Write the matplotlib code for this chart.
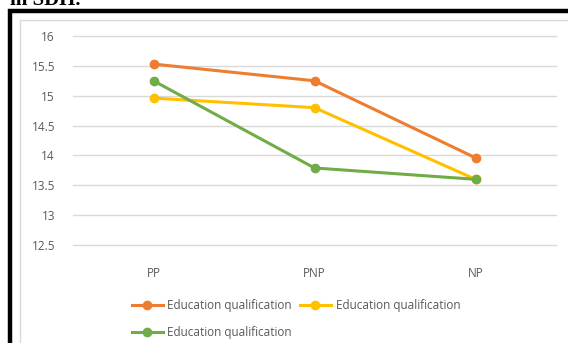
import matplotlib.pyplot as plt
from matplotlib.patches import Rectangle

# values
categories = ['PP', 'PNP', 'NP']
series_orange = [15.53, 15.25, 13.96]
series_yellow = [14.96, 14.80, 13.60]
series_green = [15.25, 13.79, 13.60]
labels = ['Education qualification', 'Education qualification', 'Education qualification']
yticks = [12.5, 13, 13.5, 14, 14.5, 15, 15.5, 16]

W, H = 568, 343
fig = plt.figure(figsize=(W / 100, H / 100), dpi=100)
fig.patch.set_facecolor('white')

# cut-off caption above the frame
fig.text(10 / W, 1 - 5 / H, 'in SDH.', family='Liberation Serif', weight='bold',
         fontsize=15, va='baseline', ha='left')

# thick black frame (runs off the right and bottom edge)
fig.patches.append(Rectangle((10 / W, -0.2), 1.2, 1 - 10.5 / H + 0.2,
                             transform=fig.transFigure, fill=False,
                             edgecolor='black', linewidth=3.2))
# light chart border
fig.patches.append(Rectangle((19.5 / W, -0.2), 1.2, 1 - 19.5 / H + 0.2,
                             transform=fig.transFigure, fill=False,
                             edgecolor='#d9d9d9', linewidth=1))

ax = fig.add_axes([73 / W, 1 - 245 / H, (556 - 73) / W, (245 - 36) / H])
ax.patch.set_alpha(0)
x = range(len(categories))
h1, = ax.plot(x, series_orange, color='#ed7d31', lw=2.2, marker='o', ms=6, label=labels[0])
h2, = ax.plot(x, series_yellow, color='#ffc000', lw=2.2, marker='o', ms=6, label=labels[1])
h3, = ax.plot(x, series_green, color='#70ad47', lw=2.2, marker='o', ms=6, label=labels[2])

ax.set_xlim(-0.5, 2.5)
ax.set_ylim(12.5, 16)
ax.set_yticks(yticks)
ax.set_yticklabels(['12.5', '13', '13.5', '14', '14.5', '15', '15.5', '16'])
ax.set_xticks(list(x))
ax.set_xticklabels(categories)
ax.grid(axis='y', color='#d9d9d9', lw=1)
for gl in ax.get_ygridlines():
    gl.set_clip_on(False)
ax.set_axisbelow(True)
for s in ax.spines.values():
    s.set_visible(False)
ax.tick_params(length=0, labelsize=8.5, labelcolor='#595959')
ax.tick_params(axis='y', pad=13)
ax.tick_params(axis='x', pad=16)
for t in ax.get_xticklabels() + ax.get_yticklabels():
    t.set_family('Open Sans')

# column-first filling: orange, green in col 1, yellow in col 2
fig.legend([h1, h3, h2], [labels[0], labels[2], labels[1]], ncol=2, frameon=False,
           loc='center', bbox_to_anchor=(296 / W, 1 - 319 / H),
           prop={'family': 'Open Sans', 'size': 8.5}, labelcolor='#595959',
           handlelength=2.6, handletextpad=0.4, columnspacing=0.7,
           labelspacing=1.2, borderaxespad=0)

fig.savefig('out.png', dpi=100)
